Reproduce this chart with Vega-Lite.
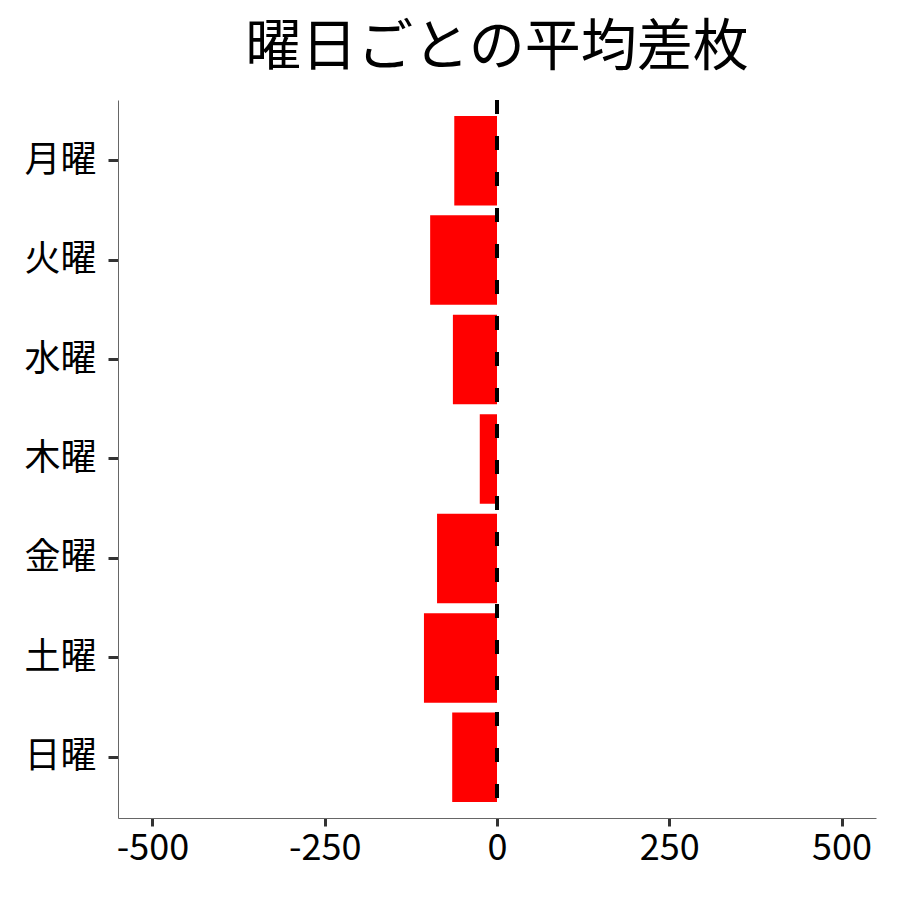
{
  "$schema": "https://vega.github.io/schema/vega-lite/v6.json",
  "autosize": "none",
  "width": 758,
  "height": 718,
  "padding": {"left": 118, "top": 100, "right": 24, "bottom": 82},
  "background": "white",
  "title": {
    "text": "曜日ごとの平均差枚",
    "fontSize": 56,
    "fontWeight": "normal",
    "font": "Noto Sans CJK JP",
    "color": "black",
    "anchor": "middle",
    "offset": 21
  },
  "data": {
    "values": [
      {"day": "月曜", "diff": -62},
      {"day": "火曜", "diff": -97},
      {"day": "水曜", "diff": -64},
      {"day": "木曜", "diff": -25},
      {"day": "金曜", "diff": -87},
      {"day": "土曜", "diff": -106},
      {"day": "日曜", "diff": -65}
    ]
  },
  "layer": [
    {
      "mark": {"type": "bar", "color": "#ff0000"},
      "encoding": {
        "y": {
          "field": "day",
          "type": "nominal",
          "sort": ["月曜", "火曜", "水曜", "木曜", "金曜", "土曜", "日曜"],
          "scale": {"paddingInner": 0.1, "paddingOuter": 0.16},
          "axis": {
            "title": null,
            "domainColor": "#666666",
            "domainWidth": 1,
            "tickColor": "#333333",
            "tickWidth": 3,
            "tickSize": 10,
            "labelPadding": 12,
            "labelFontSize": 36,
            "labelColor": "black",
            "labelFont": "Noto Sans CJK JP"
          }
        },
        "x": {
          "field": "diff",
          "type": "quantitative",
          "scale": {"domain": [-550, 550], "nice": false, "zero": false},
          "axis": {
            "title": null,
            "grid": false,
            "values": [-500, -250, 0, 250, 500],
            "labelExpr": "toString(datum.value)",
            "domainColor": "#666666",
            "domainWidth": 1,
            "tickColor": "#333333",
            "tickWidth": 3,
            "tickSize": 8,
            "labelPadding": 5,
            "labelFontSize": 36,
            "labelColor": "black",
            "labelFont": "Noto Sans CJK JP"
          }
        },
        "x2": {"datum": 0}
      }
    },
    {
      "mark": {"type": "rule", "color": "black", "strokeWidth": 4, "strokeDash": [14, 22]},
      "encoding": {
        "x": {"datum": 0}
      }
    }
  ],
  "config": {
    "view": {"stroke": null},
    "axis": {"labelFont": "Noto Sans CJK JP"}
  }
}
